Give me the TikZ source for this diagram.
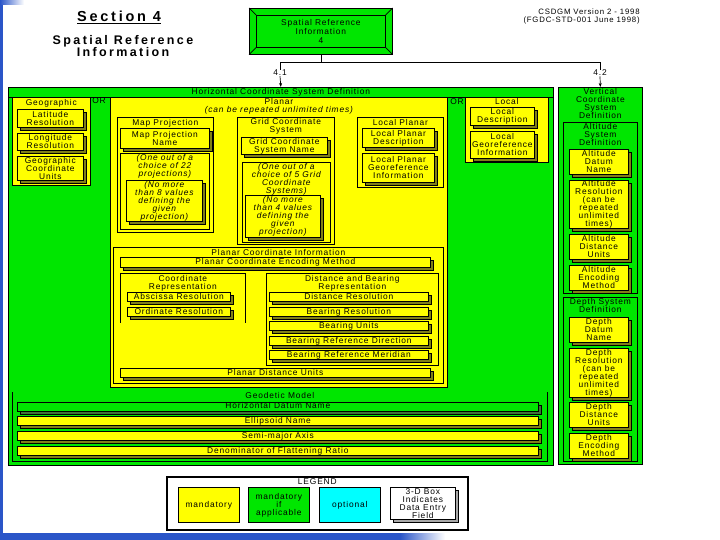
\documentclass[tikz,border=0pt]{standalone}
\usepackage{fontspec}
\usetikzlibrary{arrows.meta}
\usetikzlibrary{shadows}
\usetikzlibrary{positioning, calc}
\newfontfamily\chartfont[LetterSpace=10]{Liberation Sans}
\newfontfamily\headfont[LetterSpace=19]{Liberation Sans}
\newcommand\chartsize{\chartfont\fontsize{8.4}{8}\selectfont}
\definecolor{csyellow}{HTML}{FFFF00}
\definecolor{csgreen}{HTML}{00E600}
\definecolor{csolive}{HTML}{808018}
\definecolor{csdkgreen}{HTML}{40703A}
\definecolor{cscyan}{HTML}{00FFFF}
\definecolor{csblue}{HTML}{2A55C8}
\definecolor{csgray}{HTML}{A8A8A8}

\begin{document}
\begin{tikzpicture}[
    x=1pt, y=-1pt,
    line width=0.7pt,
    lbl/.style={font=\chartsize, inner sep=0pt, align=center},
    note/.style={lbl, font=\chartsize\itshape},
    sz/.style 2 args={minimum width=#1, minimum height=#2},
    bar/.style={text height=7pt, text depth=2pt},
    frame/.style={draw=black, inner sep=0pt, anchor=north west},
    ybox/.style={frame, fill=csyellow},
    gbox/.style={frame, fill=csgreen},
    field/.style={frame, lbl, fill=csyellow,
                  drop shadow={shadow xshift=3pt, shadow yshift=-3pt,
                               fill=csolive, draw=black, opacity=1}},
    gfield/.style={frame, lbl, fill=csgreen,
                   drop shadow={shadow xshift=3pt, shadow yshift=-3pt,
                                fill=csdkgreen, draw=black, opacity=1}},
    wfield/.style={frame, lbl, fill=white,
                   drop shadow={shadow xshift=3pt, shadow yshift=-3pt,
                                fill=csgray, draw=black, opacity=1}},
    arr/.style={-{Stealth[length=4pt, width=3pt]}},
  ]
  \useasboundingbox[fill=white] (0,0) rectangle (720,540);
  % ---- slide edges ----
  \fill[csblue] (0,0) rectangle (3,540);
  \shade[left color=csblue, right color=white] (0,0) rectangle (24,5);
  \fill[csblue] (0,533) rectangle (400,540);
  \shade[left color=csblue, right color=white] (400,533) rectangle (445,540);

  % ---- headings ----
  \node[font=\headfont\bfseries\fontsize{14.5}{15}\selectfont, inner sep=0pt]
    (sect) at (119,17) {\underline{Section 4}};
  \node[font=\headfont\bfseries\fontsize{12.5}{12}\selectfont, align=center, inner sep=0pt]
    (sectname) at (123,46) {Spatial Reference\\Information};
  \node[lbl, font=\chartfont\fontsize{7.8}{7.2}\selectfont, align=right, anchor=north east]
    (version) at (640,9) {CSDGM Version 2 - 1998\\(FGDC-STD-001 June 1998)};

  % ---- root ----
  \node[gbox, lbl, font=\chartfont\fontsize{8.4}{8.7}\selectfont, sz={143}{46}]
    (spref) at (249,8) {Spatial Reference\\Information\\4};
  \draw ($(spref.north west)+(7,7)$) rectangle ($(spref.south east)+(-7,-7)$);
  \foreach \c/\dx/\dy in {north west/7/7, north east/-7/7, south west/7/-7, south east/-7/-7}
    \draw (spref.\c) -- ++(\dx,\dy);

  % ---- 4.1 horizontal ----
  \node[gbox, sz={545}{378}] (horiz) at (8,87) {};
  \node[gbox, lbl, bar, sz={545}{10}] (horizt) at (horiz.north west) {Horizontal Coordinate System Definition};

  \node[ybox, sz={78}{88}] (geo) at (12,97) {};
  \node[lbl, below=2.5pt of geo.north] (geot) {Geographic};
  \node[field, sz={66}{18}] (lat) at (17,109) {Latitude\\Resolution};
  \node[field, sz={66}{17}] (lon) at (17,133) {Longitude\\Resolution};
  \node[field, sz={66}{24}] (gcu) at (17,156) {Geographic\\Coordinate\\Units};

  \foreach \x/\y [count=\i] in {99/101, 226/123, 345/122, 457/102, 255/279}
    \node[lbl] (or\i) at (\x,\y) {OR};

  \node[ybox, sz={337}{290}] (planar) at (110,97) {};
  \node[lbl, below=1.5pt of planar.north] (planart)
    {Planar\\{\itshape(can be repeated unlimited times)}};

  % map projection
  \node[ybox, sz={96}{115}] (mapproj) at (117,117) {};
  \node[lbl, below=2pt of mapproj.north] (mapprojt) {Map Projection};
  \node[field, sz={89}{20}] (mpname) at (120,128) {Map Projection\\Name};
  \node[ybox, sz={89}{76}] (mpchoice) at (120,153) {};
  \node[note, below=1.5pt of mpchoice.north] (mpchoicet) {(One out of a\\choice of 22\\projections)};
  \node[field, note, sz={76}{41}] (mpvals) at (126,180)
    {(No more\\than 8 values\\defining the\\given\\projection)};

  % grid coordinate system
  \node[ybox, sz={97}{127}] (grid) at (237,117) {};
  \node[lbl, below=1.5pt of grid.north] (gridt) {Grid Coordinate\\System};
  \node[field, sz={86}{17}] (gname) at (241,137) {Grid Coordinate\\System Name};
  \node[ybox, sz={88}{80}] (gchoice) at (242,162) {};
  \node[note, below=1pt of gchoice.north] (gchoicet)
    {(One out of a\\choice of 5 Grid\\Coordinate\\Systems)};
  \node[field, note, sz={75}{42}] (gvals) at (245,195)
    {(No more\\than 4 values\\defining the\\given\\projection)};

  % local planar
  \node[ybox, sz={86}{70}] (lplanar) at (357,117) {};
  \node[lbl, below=2pt of lplanar.north] (lplanart) {Local Planar};
  \node[field, sz={72}{19}] (lpdesc) at (362,128) {Local Planar\\Description};
  \node[field, sz={72}{29}] (lpgeo) at (362,153) {Local Planar\\Georeference\\Information};

  % local
  \node[ybox, sz={83}{65}] (local) at (465,97) {};
  \node[lbl, below=1.5pt of local.north] (localt) {Local};
  \node[field, sz={64}{18}] (ldesc) at (470,107) {Local\\Description};
  \node[field, sz={64}{27}] (lgeo) at (470,131) {Local\\Georeference\\Information};

  % planar coordinate information
  \node[ybox, sz={330}{136}] (pci) at (113,247) {};
  \node[lbl, below=2.5pt of pci.north] (pcit) {Planar Coordinate Information};
  \node[field, bar, sz={310}{9.5}] (pcem) at (120,257) {Planar Coordinate Encoding Method};

  \node[frame, draw=none, sz={125}{49}] (crep) at (120,273) {};
  \draw (crep.south west) -- (crep.north west) -- (crep.north east) -- (crep.south east);
  \node[lbl, below=2pt of crep.north] (crept) {Coordinate\\Representation};
  \node[field, bar, sz={103}{9}] (absc) at (127,292) {Abscissa Resolution};
  \node[field, bar, sz={103}{9}] (ordi) at (127,307) {Ordinate Resolution};

  \node[ybox, sz={172}{92}] (dbrep) at (266,273) {};
  \node[lbl, below=2pt of dbrep.north] (dbrept) {Distance and Bearing\\Representation};
  \foreach \y/\t [count=\i] in {292/Distance Resolution, 307/Bearing Resolution,
      321/Bearing Units, 336/Bearing Reference Direction, 350/Bearing Reference Meridian}
    \node[field, bar, sz={159}{9}] (db\i) at (269,\y) {\t};

  \node[field, bar, sz={310}{9}] (pdu) at (120,368) {Planar Distance Units};

  % geodetic model
  \node[frame, draw=none, sz={535}{69}] (geod) at (12,392) {};
  \draw (geod.north west) -- (geod.south west) -- (geod.south east) -- (geod.north east);
  \node[lbl, below=0.5pt of geod.north] (geodt) {Geodetic Model};
  \node[gfield, bar, sz={521}{9}] (hdn) at (17,401.5) {Horizontal Datum Name};
  \foreach \y/\t [count=\i] in {416/Ellipsoid Name, 431/Semi-major Axis,
      446/Denominator of Flattening Ratio}
    \node[field, bar, sz={521}{9}] (gm\i) at (17,\y) {\t};

  % ---- 4.2 vertical ----
  \node[gbox, sz={84}{377}] (vert) at (558,87) {};
  \node[lbl, below=1.5pt of vert.north] (vertt) {Vertical\\Coordinate\\System\\Definition};

  \node[gbox, sz={74}{171}] (alt) at (563,122) {};
  \node[lbl, below=1.5pt of alt.north] (altt) {Altitude\\System\\Definition};
  \node[field, sz={59}{25}] (adn) at (569,149) {Altitude\\Datum\\Name};
  \node[field, sz={59}{48}] (ares) at (569,180)
    {Altitude\\Resolution\\(can be\\repeated\\unlimited\\times)};
  \node[field, sz={59}{25}] (adu) at (569,234) {Altitude\\Distance\\Units};
  \node[field, sz={59}{25}] (aem) at (569,265) {Altitude\\Encoding\\Method};

  \node[gbox, sz={74}{164}] (dep) at (563,297) {};
  \node[lbl, below=1.5pt of dep.north] (dept) {Depth System\\Definition};
  \node[field, sz={59}{25}] (ddn) at (569,317) {Depth\\Datum\\Name};
  \node[field, sz={59}{49}] (dres) at (569,348)
    {Depth\\Resolution\\(can be\\repeated\\unlimited\\times)};
  \node[field, sz={59}{25}] (ddu) at (569,402) {Depth\\Distance\\Units};
  \node[field, sz={59}{25}] (dem) at (569,433) {Depth\\Encoding\\Method};

  % ---- connectors ----
  \coordinate (fork) at ($(spref.south)+(0,8)$);
  \node[lbl] (l41) at (280,73) {4.1};
  \node[lbl] (l42) at (600,73) {4.2};
  \draw (spref.south) -- (fork);
  \draw (fork) -| (l41.north);
  \draw (fork) -| (l42.north);
  \draw[arr] (l41.south) -- (horiz.north);
  \draw[arr] (l42.south) -- (vert.north);

  % ---- legend ----
  \node[frame, line width=1.6pt, sz={301}{53}] (legend) at (166,476) {};
  \node[lbl, below=2pt of legend.north] (legendt) {LEGEND};
  \node[ybox, lbl, sz={61}{35}] (lgmand) at (178,487) {mandatory};
  \node[gbox, lbl, sz={61}{35}] (lgcond) at (248,487) {mandatory\\if\\applicable};
  \node[frame, lbl, fill=cscyan, sz={61}{35}] (lgopt) at (319,487) {optional};
  \node[wfield, sz={65}{32}] (lgbox) at (390,487) {3-D Box\\Indicates\\Data Entry\\Field};
\end{tikzpicture}
\end{document}
